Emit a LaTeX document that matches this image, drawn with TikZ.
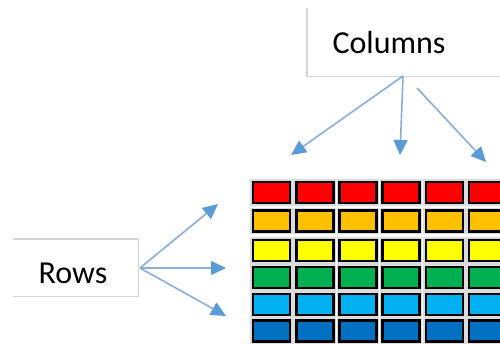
\documentclass[tikz,border=0pt]{standalone}
\usepackage{fontspec}
\setmainfont{Carlito}
\usetikzlibrary{arrows.meta}
\definecolor{arrowline}{HTML}{8AAED6}
\definecolor{arrowhead}{HTML}{5B9BD5}
\definecolor{boxedge}{HTML}{D4D4D4}
\definecolor{cRed}{HTML}{FF0000}
\definecolor{cOrange}{HTML}{FFC000}
\definecolor{cYellow}{HTML}{FFFF00}
\definecolor{cGreen}{HTML}{00B050}
\definecolor{cSky}{HTML}{00B0F0}
\definecolor{cBlue}{HTML}{0070C0}
\tikzset{
  pointer/.style={draw=arrowline, line width=1.6pt,
    -{Triangle[length=15pt,width=14pt,fill=arrowhead,color=arrowhead]}},
  labelbox/.style={inner sep=0pt, font=\fontsize{32}{38}\selectfont},
  edge/.style={draw=boxedge, line width=1.2pt},
  cell/.style={draw=black, line width=2.6pt, minimum width=37pt,
    minimum height=21pt, inner sep=0pt},
  glow/.style={draw=black!14, line width=3pt}
}
\begin{document}
\begin{tikzpicture}[x=1pt,y=-1pt]
\useasboundingbox (0,0) rectangle (500,343);
\clip (0,0) rectangle (500,343);
\fill[white] (0,0) rectangle (500,343);

% label boxes
\node[labelbox, minimum width=193pt, minimum height=68pt, anchor=north west] (cols) at (307,8) {};
\node[labelbox] (colstext) at (389,43) {Columns};
\draw[edge] (cols.north west) -- (cols.south west) -- (cols.south east);

\node[labelbox, minimum width=125pt, minimum height=57pt, anchor=north west] (rows) at (13,239) {};
\node[labelbox] (rowstext) at (73,273) {Rows};
\draw[edge] (rows.north west) -- (rows.north east) -- (rows.south east) -- (rows.south west);

% coloured table
\foreach \r/\col/\y in {1/cRed/192.5, 2/cOrange/221, 3/cYellow/250.5, 4/cGreen/277.5, 5/cSky/304.5, 6/cBlue/331} {
  \foreach \c in {1,...,6} {
    \pgfmathsetmacro{\x}{271.5+43.2*(\c-1)}
    \draw[glow] (\x-19.8,\y-11.8) rectangle (\x+19.8,\y+11.8);
    \node[cell, fill=\col] (cell-\r-\c) at (\x,\y) {};
  }
}

% arrow ends
\coordinate (colsfoot) at (403,76);
\coordinate (colsfoot2) at (417,88);
\coordinate (tipA) at (291,155);
\coordinate (tipB) at (400,155);
\coordinate (tipC) at (486,162);
\coordinate (rowsside) at (140,268);
\coordinate (tipD) at (218,204);
\coordinate (tipE) at (226,268);
\coordinate (tipF) at (226,316);

\draw[pointer] (colsfoot) -- (tipA);
\draw[pointer] (colsfoot) -- (tipB);
\draw[pointer] (colsfoot2) -- (tipC);
\draw[pointer] (rowsside) -- (tipD);
\draw[pointer] (rowsside) -- (tipE);
\draw[pointer] (rowsside) -- (tipF);
\end{tikzpicture}
\end{document}
